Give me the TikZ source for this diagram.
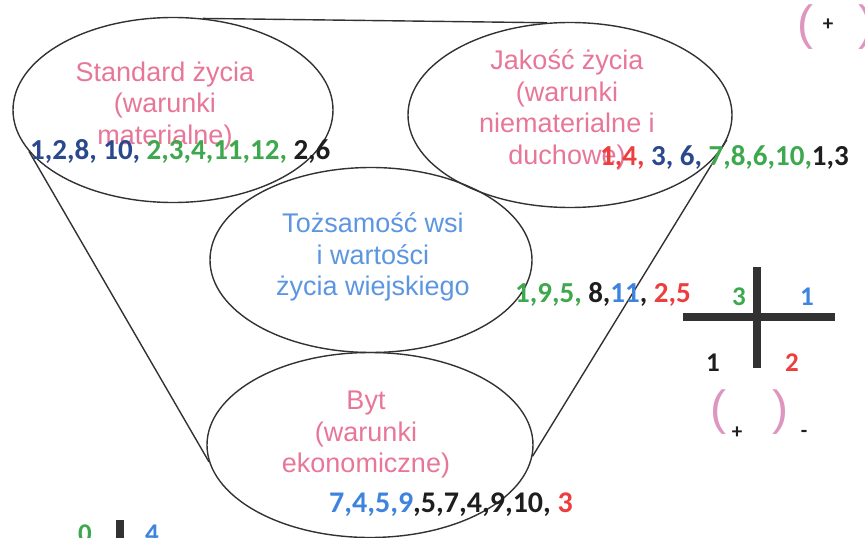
\documentclass[tikz,border=0pt]{standalone}
\usepackage{fontspec}
\setmainfont{Liberation Sans}
\newfontfamily\numfont{Carlito}
\usetikzlibrary{shapes.geometric}

\definecolor{rosetxt}{RGB}{232,118,152}
\definecolor{skytxt}{RGB}{92,150,225}
\definecolor{navynum}{RGB}{42,72,142}
\definecolor{greennum}{RGB}{62,168,78}
\definecolor{rednum}{RGB}{236,62,62}
\definecolor{bluenum}{RGB}{62,132,222}
\definecolor{blacknum}{RGB}{30,30,30}
\definecolor{parpink}{RGB}{222,150,192}
\definecolor{outline}{RGB}{50,50,50}

\tikzset{
  sphere/.style={ellipse, draw=outline, line width=1.4pt, minimum width=#1, minimum height=185pt, inner sep=0pt},
  caption/.style={align=center, font=\fontsize{27}{31.5}\selectfont},
  nums/.style={anchor=west, inner sep=0pt, font=\numfont\bfseries\fontsize{29}{29}\selectfont},
  digit/.style={inner sep=0pt, font=\numfont\bfseries\fontsize{27}{27}\selectfont},
  paren/.style={inner sep=0pt, text=parpink, font=\fontsize{48}{48}\selectfont},
  sign/.style={inner sep=0pt, text=blacknum, font=\numfont\bfseries\fontsize{21}{21}\selectfont},
  bar/.style={draw=outline, line width=8pt},
  funnel/.style={draw=outline, line width=1.4pt},
}

\begin{document}
\begin{tikzpicture}[x=1pt, y=-1pt]
    \useasboundingbox (0,0) rectangle (865,538);

    % Ellipses (top left, top right, middle, bottom)
    \node[sphere=320pt] (standard) at (173,110) {};
    \node[sphere=324pt] (jakosc) at (570,115) {};
    \node[sphere=322pt] (tozsamosc) at (371,260) {};
    \node[sphere=326pt] (byt) at (370,445) {};

    % Funnel
    \draw[funnel] (standard.72) -- (jakosc.104);
    \draw[funnel] (standard.196) -- (byt.186);
    \draw[funnel] (jakosc.351) -- (byt.356);

    % Captions
    \node[caption, text=rosetxt] (standardtxt) at (165,106) {Standard życia\\(warunki\\materialne)};
    \node[caption, text=rosetxt] (jakosctxt) at (567,110) {Jakość życia\\(warunki\\niematerialne i\\duchowe)};
    \node[caption, text=skytxt] (tozsamosctxt) at (373,257) {Tożsamość wsi\\i wartości\\życia wiejskiego};
    \node[caption, text=rosetxt] (byttxt) at (366,435) {Byt\\(warunki\\ekonomiczne)};

    % Numbers
    \node[nums] (numstandard) at (30,151) {\textcolor{navynum}{1,2,8, 10,} \textcolor{greennum}{2,3,4,11,12,} \textcolor{blacknum}{2,6}};
    \node[nums] (numjakosc) at (600,157) {\textcolor{rednum}{1,4,} \textcolor{navynum}{3, 6,} \textcolor{greennum}{7,8,6,10,}\textcolor{blacknum}{1,3}};
    \node[nums] (numtozsamosc) at (515,294) {\textcolor{greennum}{1,9,5,} \textcolor{blacknum}{8,}\textcolor{bluenum}{11}\textcolor{blacknum}{,} \textcolor{rednum}{2,5}};
    \node[nums, font=\numfont\bfseries\fontsize{30}{30}\selectfont] (numbyt) at (329,505) {\textcolor{bluenum}{7,4,5,9}\textcolor{blacknum}{,5,7,4,9,10,} \textcolor{rednum}{3}};

    % Cross on the right
    \coordinate (crossW) at (683,317);
    \coordinate (crossE) at (835,317);
    \coordinate (crossN) at (757,267);
    \coordinate (crossS) at (757,368);
    \draw[bar] (crossW) -- (crossE);
    \draw[bar] (crossN) -- (crossS);
    \node[digit, text=greennum] (qthree) at (739,297) {3};
    \node[digit, text=bluenum] (qone) at (807,297) {1};
    \node[digit, text=blacknum] (qoneb) at (713,363) {1};
    \node[digit, text=rednum] (qtwo) at (792,363) {2};
    \node[paren] (lpar) at (718,412) {(};
    \node[paren] (rpar) at (780,412) {)};
    \node[sign] (plus) at (737,433) {+};
    \node[sign] (minus) at (804,434) {-};

    % Top right corner
    \node[paren] (lpartop) at (805,27) {(};
    \node[sign] (plustop) at (828,25) {+};
    \node[paren] (rpartop) at (866,27) {)};

    % Bottom left corner (cut off)
    \coordinate (stubN) at (120,520);
    \coordinate (stubS) at (120,560);
    \draw[bar] (stubN) -- (stubS);
    \node[digit, text=greennum] (qzero) at (85,534) {0};
    \node[digit, text=bluenum] (qfour) at (152,534) {4};
\end{tikzpicture}
\end{document}
